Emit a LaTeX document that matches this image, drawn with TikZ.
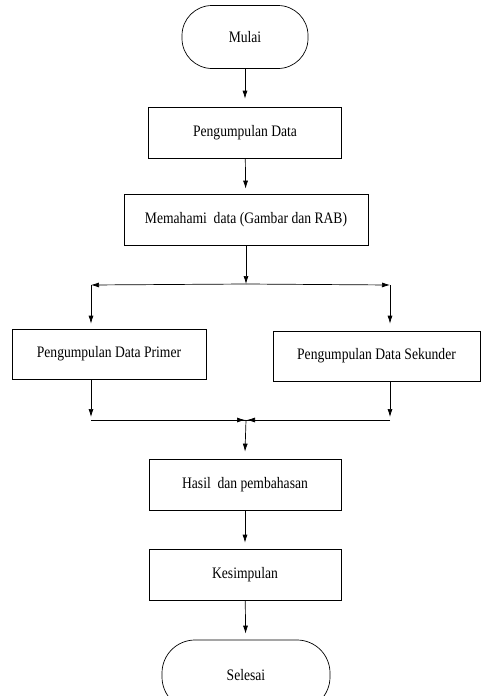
\documentclass[tikz,border=0pt]{standalone}
\usepackage{fontspec}
\setmainfont[FakeStretch=0.85]{Liberation Serif}
\usetikzlibrary{arrows.meta,positioning}

\tikzset{
  process/.style={draw, line width=0.7pt, minimum height=51pt, inner sep=2pt,
    font=\fontsize{16}{19}\selectfont},
  terminal/.style={process, rounded corners=30pt, minimum height=63pt},
  flow/.style={line width=0.7pt, -{Latex[length=8pt,width=5pt]}},
  wire/.style={line width=0.7pt}
}

\begin{document}
\begin{tikzpicture}[x=1pt,y=-1pt]
    \useasboundingbox (0,0) rectangle (481,696);
    \node[terminal, minimum width=126pt] (mulai) at (245,37) {Mulai};
    \node[process, minimum width=193pt] (data) at (245,132.5) {Pengumpulan Data};
    \node[process, minimum width=244pt] (paham) at (246,219.5) {Memahami\ \ data (Gambar dan RAB)};
    \node[process, minimum width=194pt, minimum height=50pt] (primer) at (109,354) {Pengumpulan Data Primer};
    \node[process, minimum width=207pt, minimum height=50pt] (sekunder) at (376.5,356) {Pengumpulan Data Sekunder};
    \node[process, minimum width=192pt] (hasil) at (245,484.5) {Hasil\ \ dan pembahasan};
    \node[process, minimum width=192pt] (simpul) at (245,574.5) {Kesimpulan};
    \node[terminal, minimum width=168pt, minimum height=70pt, rounded corners=33pt] (selesai) at (246,675) {Selesai};
    % titik cabang
    \coordinate (cabang) at (246,284);
    \coordinate (cabangKiri) at (91,285);
    \coordinate (cabangKanan) at (390,285);
    \coordinate (gabungKiri) at (91,420);
    \coordinate (gabungKanan) at (390,420);
    \coordinate (gabung) at (246,420);
    \draw[flow, shorten >=8pt] (mulai) to (data);
    \draw[flow, shorten >=5pt] (data) to (paham);
    \draw[flow] (paham) to (cabang);
    \draw[flow] (cabang) -- (cabangKiri);
    \draw[flow] (cabang) -- (cabangKanan);
    \draw[flow] (cabangKiri) -- ([yshift=5pt]cabangKiri |- primer.north);
    \draw[flow] (cabangKanan) -- ([yshift=7pt]cabangKanan |- sekunder.north);
    \draw[flow] (primer.south -| gabungKiri) -- ([yshift=3pt]gabungKiri);
    \draw[flow] (sekunder.south -| gabungKanan) -- ([yshift=3pt]gabungKanan);
    \draw[wire] (gabungKiri) -- (gabungKanan);
    \draw[flow] (gabungKiri) -- ([xshift=-1pt]gabung);
    \draw[flow] (gabungKanan) -- ([xshift=1pt]gabung);
    \draw[flow] (gabung) -- ([yshift=7pt]hasil.north);
    \draw[flow, shorten >=6pt] (hasil) to (simpul);
    \draw[flow, shorten >=6pt] (simpul) to (selesai);
\end{tikzpicture}
\end{document}
